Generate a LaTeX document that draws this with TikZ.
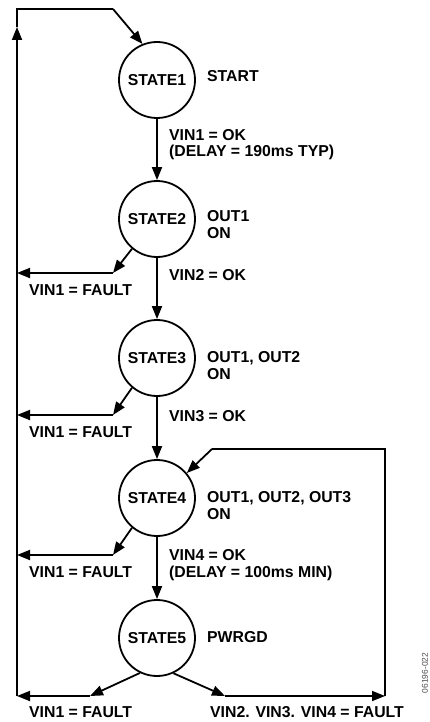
\documentclass[tikz,border=0pt]{standalone}
\usepackage{fontspec}
\setmainfont{Liberation Sans}
\usepackage{tikz}
\usetikzlibrary{arrows.meta,positioning}
\tikzstyle{state} = [circle,draw,line width=1.8pt,minimum size=76pt,inner sep=0pt]
\tikzstyle{arrow} = [line width=1.8pt,->,>={Triangle[length=13pt,width=10pt]}]
\tikzstyle{wire} = [line width=1.8pt]
\tikzstyle{lbl} = [anchor=base west,align=left,inner sep=0pt]

\begin{document}
\begin{tikzpicture}[x=1pt,y=-1pt,every node/.style={font=\bfseries\fontsize{15.8}{16.5}\selectfont}]
        \useasboundingbox (0,0) rectangle (430,722);
        \foreach \i/\y in {1/80,2/219,3/358,4/498,5/638}{
            \node[state] (s\i) at (157,\y) {STATE\i};
        }
        \foreach \i/\j in {1/2,2/3,3/4,4/5}{
            \draw[arrow] (s\i) -- (s\j);
        }
        % outputs of each state (base = last line)
        \node[lbl] (o1) at (207,82) {START};
        \node[lbl] (o2) at (207,238) {OUT1\\ON};
        \node[lbl] (o3) at (207,379) {OUT1, OUT2\\ON};
        \node[lbl] (o4) at (207,519) {OUT1, OUT2, OUT3\\ON};
        \node[lbl] (o5) at (207,642) {PWRGD};
        % conditions
        \node[lbl] (c1) at (169,157) {VIN1 = OK\\(DELAY = 190ms TYP)};
        \node[lbl] (c2) at (169,280) {VIN2 = OK};
        \node[lbl] (c3) at (169,421) {VIN3 = OK};
        \node[lbl] (c4) at (169,577) {VIN4 = OK\\(DELAY = 100ms MIN)};
        % return path on the left
        \coordinate (bl) at (17,696);
        \coordinate (ml) at (17,27);
        \coordinate (tl) at (17,9);
        \coordinate (tr) at (113,9);
        \coordinate (b5) at (90,696);
        \foreach \i/\y in {2/273,3/415,4/555}{
            \coordinate (f\i) at (113,\y);
            \draw[arrow] (s\i.230) -- (f\i);
            \draw[arrow] (f\i) -- (f\i -| bl);
            \node[lbl] (v\i) at (29,\y+22) {VIN1 = FAULT};
        }
        \draw[arrow] (s5.244) -- (b5);
        \draw[arrow] (b5) -- (bl);
        \draw[arrow] (bl) -- (ml);
        \draw[wire] (ml) -- (tl) -- (tr);
        \draw[arrow] (tr) -- (s1.112);
        \node[lbl] (v5) at (29,717) {VIN1 = FAULT};
        % return path on the right
        \coordinate (b5r) at (225,696);
        \coordinate (br) at (385,696);
        \coordinate (rt) at (385,449);
        \coordinate (t4) at (212,449);
        \draw[arrow] (s5.295) -- (b5r);
        \draw[arrow] (b5r) -- (br);
        \draw[wire] (br) -- (rt) -- (t4);
        \draw[arrow] (t4) -- (s4.40);
        \node[lbl] (v6) at (210,717) {VIN2. VIN3. VIN4 = FAULT};
        \node[rotate=90,text=black!70,font=\fontsize{8.4}{9}\selectfont] (id) at (425,673) {06196-022};
\end{tikzpicture}
\end{document}
